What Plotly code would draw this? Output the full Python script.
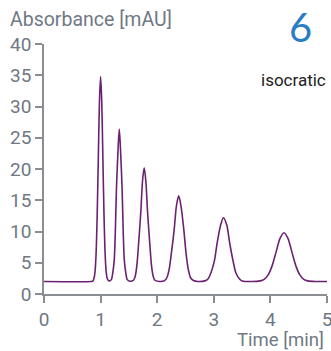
import plotly.graph_objects as go

# trace, time [min] vs absorbance [mAU]
time_min = [0.00, 0.84, 0.86, 0.88, 0.90, 0.92, 0.94, 0.96, 0.98, 1.00, 1.02, 1.04, 1.06, 1.08, 1.10, 1.12, 1.15,
            1.19, 1.21, 1.24, 1.26, 1.28, 1.31, 1.33, 1.35, 1.38, 1.40, 1.42, 1.45, 1.47, 1.52,
            1.58, 1.61, 1.64, 1.67, 1.71, 1.74, 1.77, 1.80, 1.83, 1.87, 1.90, 1.93, 1.96, 2.05,
            2.13, 2.17, 2.21, 2.25, 2.30, 2.34, 2.38, 2.42, 2.47, 2.51, 2.55, 2.59, 2.64, 2.72,
            2.84, 2.90, 2.95, 3.01, 3.06, 3.12, 3.17, 3.23, 3.28, 3.34, 3.39, 3.45, 3.50, 3.67,
            3.82, 3.89, 3.96, 4.03, 4.10, 4.17, 4.24, 4.31, 4.38, 4.45, 4.52, 4.59, 4.66, 4.80, 5.00]
absorbance = [2.0, 2.0, 2.05, 2.4, 3.4, 6.4, 12.7, 21.9, 30.9, 34.8, 30.9, 21.9, 12.7, 6.4, 3.4, 2.4, 2.1,
              2.3, 3.1, 5.3, 9.9, 16.8, 23.5, 26.4, 23.5, 16.8, 9.9, 5.3, 3.1, 2.3, 2.05,
              2.2, 2.8, 4.5, 7.9, 13.1, 18.0, 20.2, 18.0, 13.1, 7.9, 4.5, 2.8, 2.2, 2.0,
              2.15, 2.6, 3.9, 6.5, 10.3, 14.1, 15.7, 14.1, 10.3, 6.5, 3.9, 2.6, 2.15, 2.0,
              2.1, 2.45, 3.4, 5.3, 8.2, 11.0, 12.2, 11.0, 8.2, 5.3, 3.4, 2.45, 2.1, 2.0,
              2.1, 2.35, 3.05, 4.5, 6.7, 8.9, 9.8, 8.9, 6.7, 4.5, 3.05, 2.35, 2.1, 2.0, 2.0]

x_ticks = [0, 1, 2, 3, 4, 5]
y_ticks = [0, 5, 10, 15, 20, 25, 30, 35, 40]

axis_grey = '#8a8d91'
label_grey = '#6f7884'

fig = go.Figure()
fig.add_trace(go.Scatter(
	x=time_min,
	y=absorbance,
	mode='lines',
	line=dict(color='#6b2171', width=1.6, shape='spline', smoothing=0.8),
	hoverinfo='skip'
))

fig.update_layout(
	width=331,
	height=351,
	margin=dict(l=44, r=4, t=44, b=57),
	showlegend=False,
	paper_bgcolor='white',
	plot_bgcolor='white',
	font=dict(family='Roboto', color=label_grey),
	xaxis=dict(
		range=[0, 5],
		tickvals=x_ticks,
		showgrid=False,
		zeroline=False,
		showline=True,
		linecolor=axis_grey,
		linewidth=1.5,
		ticks='outside',
		ticklen=7,
		tickwidth=1.5,
		tickcolor=axis_grey,
		ticklabeloverflow='allow',
		automargin=False,
		tickfont=dict(family='Roboto', size=19, color=label_grey),
	),
	yaxis=dict(
		range=[0, 40],
		tickvals=y_ticks,
		showgrid=False,
		zeroline=False,
		showline=True,
		linecolor=axis_grey,
		linewidth=1.5,
		ticks='outside',
		ticklen=7,
		tickwidth=1.5,
		tickcolor=axis_grey,
		automargin=False,
		tickfont=dict(family='Roboto', size=19, color=label_grey),
	),
	annotations=[
		dict(text='Absorbance [mAU]', xref='paper', yref='paper', x=-0.127, y=1.096,
			 xanchor='left', yanchor='middle', showarrow=False,
			 font=dict(family='Roboto', size=19.5, color=label_grey)),
		dict(text='Time [min]', xref='paper', yref='paper', x=0.998, y=-0.184,
			 xanchor='right', yanchor='middle', showarrow=False,
			 font=dict(family='Roboto', size=18.5, color=label_grey)),
		dict(text='6', xref='paper', yref='paper', x=0.908, y=1.068,
			 xanchor='center', yanchor='middle', showarrow=False,
			 font=dict(family='Lato', size=40, color='#2a7dc2')),
		dict(text='isocratic', xref='paper', yref='paper', x=1.004, y=0.856,
			 xanchor='right', yanchor='middle', showarrow=False,
			 font=dict(family='Roboto', size=17, color='#222222')),
	],
)

# drop the default 8px body margin so the figure sits at the window corner
fig.write_html("out.html", config={'displayModeBar': False},
			   post_script="document.body.style.margin='0';")
